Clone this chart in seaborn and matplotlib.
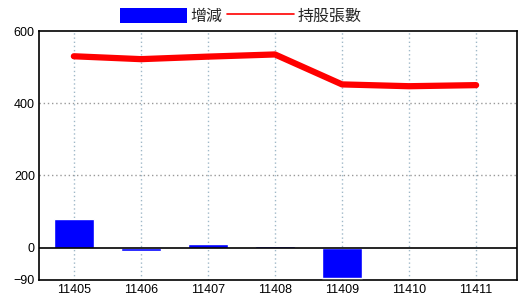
import numpy as np
import pandas as pd
import matplotlib
matplotlib.use("Agg")
import matplotlib.pyplot as plt
import seaborn as sns
from matplotlib.patches import Patch
from matplotlib.lines import Line2D

periods = ["11405", "11406", "11407", "11408", "11409", "11410", "11411"]
change = [78, -9, 10, 3, -84, 0, 0]
holders = [530, 522, 529, 535, 452, 447, 450]
yticks = [-90, 0, 200, 400, 600]

sns.set_theme(style="white")
plt.rcParams['font.family'] = ['Liberation Sans', 'Noto Sans CJK TC', 'DejaVu Sans']

fig = plt.figure(figsize=(5.2, 3.0), dpi=100)
ax = fig.add_axes([39/520, 1-280/300, (517-39)/520, (280-31)/300])

df = pd.DataFrame({"period": periods, "change": change, "holders": holders})
sns.barplot(data=df, x="period", y="change", color="#0000ff", saturation=1,
            width=0.6, ax=ax, zorder=3)
sns.lineplot(x=np.arange(len(periods)), y=holders, color="#ff0000", lw=4.5,
             ax=ax, sort=False, zorder=4)

ax.set_xlim(-0.52, 6.61)
ax.set_ylim(-90, 600)
ax.set_yticks(yticks)
ax.set_xlabel("")
ax.set_ylabel("")
for x in range(len(periods)):
    ax.axvline(x, color="#9fb8c8", ls=(0, (1, 2)), lw=1, zorder=1)
for y in [200, 400]:
    ax.axhline(y, color="#999999", ls=(0, (1, 2)), lw=1, zorder=1)
ax.axhline(0, color="black", lw=1.2, zorder=5)
for s in ax.spines.values():
    s.set_color("black")
    s.set_linewidth(1.2)
ax.tick_params(axis="both", length=0, labelsize=9, colors="black", pad=3)

handles = [Patch(facecolor="#0000ff", edgecolor="none"),
           Line2D([0], [0], color="#ff0000", lw=1.2)]
fig.legend(handles, ["增減", "持股張數"], loc="center",
           bbox_to_anchor=(241/520, 1-16/300), ncol=2, frameon=False,
           handlelength=4.2, handleheight=1.1, handletextpad=0.2,
           columnspacing=0.3, borderpad=0, prop={"size": 11.5})

fig.savefig("out.png", dpi=100)
